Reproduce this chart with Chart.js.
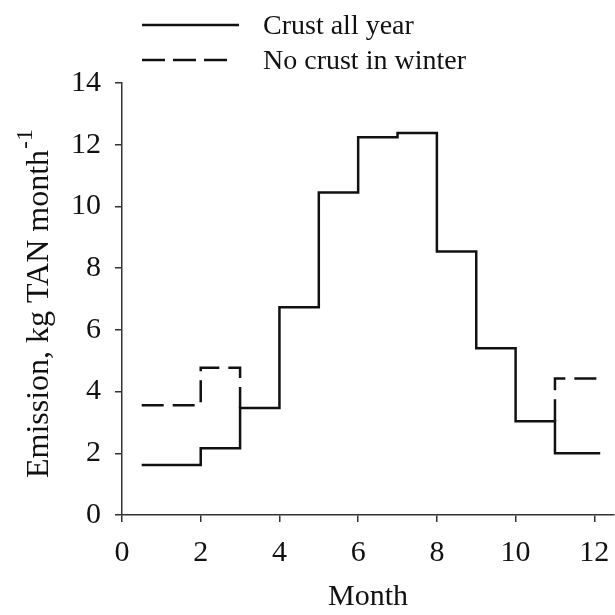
<!DOCTYPE html>
<html lang="en">
<head>
  <meta charset="UTF-8">
  <title>Emission by month</title>
  <script src="https://cdn.jsdelivr.net/npm/chart.js"></script>
  <style>
    body {
      margin: 0;
      background: #fff;
    }
    .wrap {
      position: relative;
      width: 615px;
      height: 615px;
    }
    .legend {
      position: absolute;
      left: 142px;
      top: 7px;
      font-family: "Liberation Serif", serif;
      font-size: 28px;
      color: #111;
    }
    .legend .row {
      display: flex;
      align-items: center;
      height: 35px;
    }
    .legend svg {
      margin-right: 24px;
    }
  </style>
</head>
<body>
  <div class="wrap">
    <canvas id="emissionChart" width="615" height="615"></canvas>
    <div class="legend">
      <div class="row">
        <svg width="97" height="6"><line x1="0" y1="3" x2="97" y2="3" stroke="#111" stroke-width="2.5"/></svg>
        <span>Crust all year</span>
      </div>
      <div class="row">
        <svg width="97" height="6"><line x1="0" y1="3" x2="87" y2="3" stroke="#111" stroke-width="2.5" stroke-dasharray="23 8"/></svg>
        <span>No crust in winter</span>
      </div>
    </div>
  </div>

  <script>
    // step start positions (month) and emission values, kg TAN per month
    const months = [0.5, 2, 3, 4, 5, 6, 7, 8, 9, 10, 11, 12.15];
    const crustAllYear = [1.62, 2.16, 3.47, 6.73, 10.45, 12.24, 12.38, 8.54, 5.40, 3.04, 2.00, 2.00];

    // "no crust in winter" only differs in the winter months
    const winterStartMonths = [0.5, 2, 3];
    const winterStartValues = [3.56, 4.77, 3.47];
    const winterEndMonths = [11, 11, 12.15];
    const winterEndValues = [3.04, 4.42, 4.42];

    const xTicks = [0, 2, 4, 6, 8, 10, 12];
    const yTicks = [0, 2, 4, 6, 8, 10, 12, 14];

    const FONT = '"Liberation Serif", "Times New Roman", serif';
    const INK = '#111';
    const AXIS = '#333';

    // value i holds from months[i] to months[i+1]
    const toSteps = (xs, ys) => {
      const pts = [{ x: xs[0], y: ys[0] }];
      for (let i = 1; i < xs.length; i++) pts.push({ x: xs[i], y: ys[i - 1] }, { x: xs[i], y: ys[i] });
      return pts;
    };

    const solidData = toSteps(months, crustAllYear);
    const dashedData = toSteps(winterStartMonths, winterStartValues)
      .concat([{ x: 7, y: null }])
      .concat(toSteps(winterEndMonths, winterEndValues));

    // y-axis title with a superscript, drawn by hand
    const yTitle = {
      id: 'yTitle',
      afterDraw(chart) {
        const { ctx } = chart;
        const base = 'Emission, kg TAN month';
        const sup = '-1';
        ctx.save();
        ctx.translate(48, 478);
        ctx.rotate(-Math.PI / 2);
        ctx.fillStyle = INK;
        ctx.textBaseline = 'alphabetic';
        ctx.font = '32px ' + FONT;
        const w = ctx.measureText(base).width;
        ctx.fillText(base, 0, 0);
        ctx.font = '24px ' + FONT;
        ctx.fillText(sup, w + 1, -16);
        ctx.restore();
      }
    };

    const ctx = document.getElementById('emissionChart').getContext('2d');
    new Chart(ctx, {
      type: 'line',
      data: {
        datasets: [
          {
            label: 'Crust all year',
            data: solidData,
            borderColor: INK,
            borderWidth: 2.5,
            borderJoinStyle: 'miter',
            pointRadius: 0,
            fill: false
          },
          {
            label: 'No crust in winter',
            data: dashedData,
            spanGaps: false,
            borderColor: INK,
            borderWidth: 2.5,
            borderDash: [22, 9],
            pointRadius: 0,
            fill: false
          }
        ]
      },
      options: {
        responsive: false,
        animation: false,
        devicePixelRatio: 1,
        layout: { padding: { top: 83, left: 0, right: 1, bottom: 0 } },
        plugins: {
          legend: { display: false },
          tooltip: { enabled: false }
        },
        scales: {
          x: {
            type: 'linear',
            min: 0,
            max: 12.5,
            afterBuildTicks: s => { s.ticks = xTicks.map(v => ({ value: v })); },
            afterFit: s => { s.height = 100; s.paddingRight = 0; s.paddingLeft = 0; },
            ticks: { color: INK, font: { family: FONT, size: 30 }, padding: 13, maxRotation: 0, autoSkip: false },
            grid: { drawOnChartArea: false, drawTicks: true, tickLength: 7, color: AXIS, lineWidth: 1.5 },
            border: { color: AXIS, width: 1.5 },
            title: { display: true, text: 'Month', color: INK, font: { family: FONT, size: 30 }, padding: { top: 0, bottom: 0 } }
          },
          y: {
            min: 0,
            max: 14,
            afterBuildTicks: s => { s.ticks = yTicks.map(v => ({ value: v })); },
            afterFit: s => { s.width = 122; },
            ticks: { color: INK, font: { family: FONT, size: 30 }, padding: 14 },
            grid: { drawOnChartArea: false, drawTicks: true, tickLength: 7, color: AXIS, lineWidth: 1.5 },
            border: { color: AXIS, width: 1.5 }
          }
        }
      },
      plugins: [yTitle]
    });
  </script>
</body>
</html>
